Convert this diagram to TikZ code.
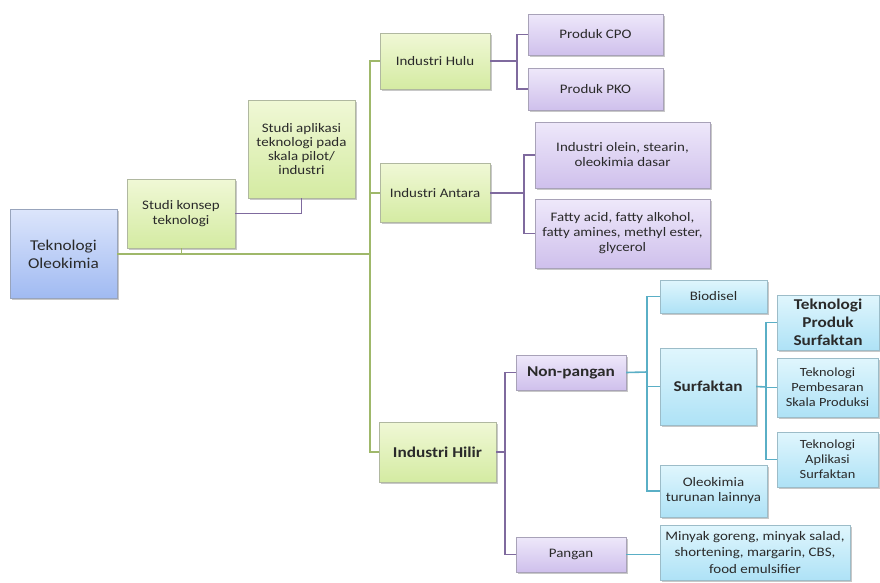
\documentclass[tikz,border=0pt]{standalone}
\usepackage{fontspec}
\setmainfont[FakeStretch=1.15]{Carlito}
\usetikzlibrary{shadows}
\definecolor{txt}{HTML}{2A2A2A}
\definecolor{gline}{HTML}{9FB86A}
\definecolor{pline}{HTML}{7F6A9E}
\definecolor{cline}{HTML}{5AAFC6}
\definecolor{gt}{HTML}{F0F8D6}\definecolor{gb}{HTML}{D4EBA2}\definecolor{gbd}{HTML}{B0B8A0}
\definecolor{pt}{HTML}{EEE8FA}\definecolor{pb}{HTML}{CFC0EC}\definecolor{pbd}{HTML}{A8A2B8}
\definecolor{ct}{HTML}{E0F6FD}\definecolor{cb}{HTML}{AEE2F6}\definecolor{cbd}{HTML}{9CBCC8}
\definecolor{bt}{HTML}{DCE5FB}\definecolor{bb}{HTML}{A0BAF2}\definecolor{bbd}{HTML}{98A4BC}
\tikzset{
  base/.style={rectangle, align=center, inner sep=2pt, text=txt,
    font=\fontsize{13}{15}\selectfont,
    drop shadow={shadow xshift=1.6pt, shadow yshift=-1.6pt, fill=black!70, opacity=0.3}},
  gbox/.style={base, draw=gbd, top color=gt, bottom color=gb},
  pbox/.style={base, draw=pbd, top color=pt, bottom color=pb},
  cbox/.style={base, draw=cbd, top color=ct, bottom color=cb},
  bbox/.style={base, draw=bbd, top color=bt, bottom color=bb},
  big/.style={font=\fontsize{15}{18}\selectfont\bfseries},
  sz/.style 2 args={minimum width=#1, minimum height=#2},
  gl/.style={draw=gline, line width=1.8pt},
  pl/.style={draw=pline, line width=1.6pt},
  cl/.style={draw=cline, line width=1.6pt},
}
\begin{document}
\begin{tikzpicture}[x=1pt,y=-1pt]
\useasboundingbox[fill=white] (0,0) rectangle (880,582);
% coordinates for brackets
\coordinate (tk) at (370,254);
\coordinate (hb) at (517,61);
\coordinate (ab) at (524,193);
\coordinate (ib) at (505,452);
\coordinate (nb) at (647,372);
\coordinate (sb) at (766,387);
% nodes
\node[bbox, sz={107}{89}, font=\fontsize{15}{18}\selectfont] (tek) at (63.5,254) {Teknologi\\Oleokimia};
\node[gbox, sz={108}{69}] (konsep) at (181,213.5) {Studi konsep\\teknologi};
\node[gbox, sz={107}{98}, font=\fontsize{13}{14}\selectfont] (aplikasi) at (301.5,149) {Studi aplikasi\\teknologi pada\\skala pilot/\\industri};
\node[gbox, sz={110}{56}] (hulu) at (435,61) {Industri Hulu};
\node[gbox, sz={110}{59}] (antara) at (435,193) {Industri Antara};
\node[gbox, sz={117}{60}, big] (hilir) at (437.5,452) {Industri Hilir};
\node[pbox, sz={135}{41}] (cpo) at (595.5,34.5) {Produk CPO};
\node[pbox, sz={135}{42}] (pko) at (595.5,89) {Produk PKO};
\node[pbox, sz={175}{66}] (olein) at (622.5,155) {Industri olein, stearin,\\oleokimia dasar};
\node[pbox, sz={175}{69}] (fatty) at (622.5,233.5) {Fatty acid, fatty alkohol,\\fatty amines, methyl ester,\\glycerol};
\node[pbox, sz={110}{35}, big] (nonpangan) at (571,372.5) {Non-pangan};
\node[pbox, sz={110}{35}] (pangan) at (571,554.5) {Pangan};
\node[cbox, sz={107}{33}] (biodisel) at (713.5,296.5) {Biodisel};
\node[cbox, sz={96}{77}, big] (surf) at (708,386.5) {Surfaktan};
\node[cbox, sz={107}{52}] (oleo) at (713.5,491) {Oleokimia\\turunan lainnya};
\node[cbox, sz={102}{55}, big, inner sep=0pt] (tps) at (828,322.5) {Teknologi\\Produk\\Surfaktan};
\node[cbox, sz={101}{59}, font=\fontsize{12.5}{15}\selectfont, inner sep=0pt] (pemb) at (827.5,387.5) {Teknologi\\Pembesaran\\Skala Produksi};
\node[cbox, sz={101}{55}, font=\fontsize{12.5}{15}\selectfont] (apl) at (827.5,459.5) {Teknologi\\Aplikasi\\Surfaktan};
\node[cbox, sz={190}{55}, font=\fontsize{13}{16.5}\selectfont, inner sep=1pt] (minyak) at (755,552.5) {Minyak goreng, minyak salad,\\shortening, margarin, CBS,\\food emulsifier};
% green trunk
\draw[gl] (tek.east) -- (tk);
\draw[gl] (hulu.west) -- (hulu.west -| tk) -- (hilir.west -| tk) -- (hilir.west);
\draw[gl] (antara.west) -- (antara.west -| tk);
\draw[gl, line width=1pt] (konsep.south) -- (konsep.south |- tk);
% purple connectors
\draw[pl] (konsep.east) -| (aplikasi.south);
\draw[pl] (hulu.east) -- (hb);
\draw[pl] (cpo.west) -- (cpo.west -| hb) -- (pko.west -| hb) -- (pko.west);
\draw[pl] (antara.east) -- (ab);
\draw[pl] (olein.west) -- (olein.west -| ab) -- (fatty.west -| ab) -- (fatty.west);
\draw[pl] (hilir.east) -- (ib);
\draw[pl] (nonpangan.west) -- (nonpangan.west -| ib) -- (pangan.west -| ib) -- (pangan.west);
% teal connectors
\draw[cl] (nonpangan.east) -- (nb);
\draw[cl] (biodisel.west) -- (biodisel.west -| nb) -- (oleo.west -| nb) -- (oleo.west);
\draw[cl] (surf.west) -- (surf.west -| nb);
\draw[cl] (surf.east) -- (sb);
\draw[cl] (tps.west) -- (tps.west -| sb) -- (apl.west -| sb) -- (apl.west);
\draw[cl] (pemb.west) -- (pemb.west -| sb);
\draw[cl] (pangan.east) -- (pangan.east -| minyak.west);
\end{tikzpicture}
\end{document}
